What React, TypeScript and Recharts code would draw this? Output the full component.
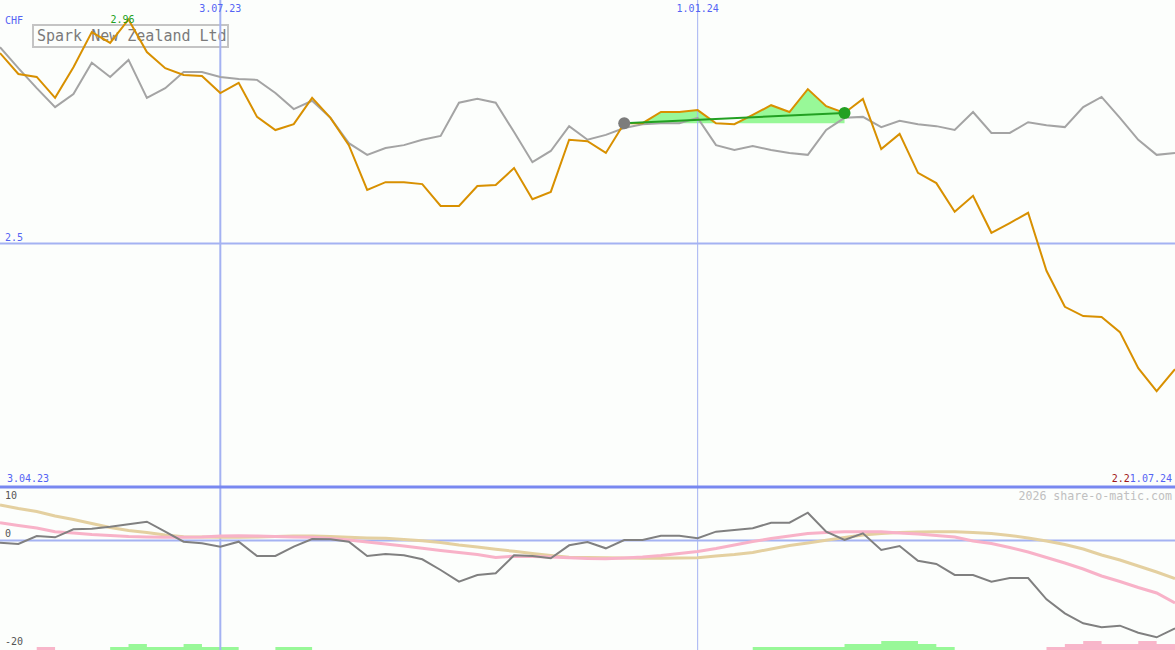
import React from "react";
import { ComposedChart, Line, Area, XAxis, YAxis, ReferenceLine, ReferenceDot } from "recharts";

// weekly points, 10.04.23 .. 1.07.24
const weekIdx = Array.from({ length: 65 }, (_, i) => i);

const sparkPrice = [
  2.891, 2.848, 2.842, 2.799, 2.862, 2.934, 2.912, 2.96, 2.893, 2.86,
  2.846, 2.844, 2.809, 2.83, 2.76, 2.733, 2.745, 2.799, 2.758, 2.702,
  2.61, 2.626, 2.626, 2.622, 2.577, 2.577, 2.618, 2.62, 2.655, 2.591,
  2.606, 2.713, 2.71, 2.686, 2.747, 2.747, 2.77, 2.77, 2.774, 2.747,
  2.745, 2.764, 2.784, 2.77, 2.817, 2.782, 2.768, 2.797, 2.694, 2.725,
  2.645, 2.624, 2.565, 2.598, 2.522, 2.542, 2.563, 2.444, 2.37, 2.351,
  2.349, 2.318, 2.244, 2.197, 2.242,
];

const peerPrice = [
  2.903, 2.86, 2.819, 2.78, 2.807, 2.871, 2.842, 2.877, 2.799, 2.819,
  2.852, 2.852, 2.842, 2.838, 2.836, 2.809, 2.776, 2.793, 2.758, 2.706,
  2.682, 2.696, 2.702, 2.713, 2.721, 2.789, 2.797, 2.789, 2.729, 2.667,
  2.69, 2.741, 2.713, 2.723, 2.737, 2.745, 2.747, 2.747, 2.758, 2.702,
  2.692, 2.7, 2.692, 2.686, 2.682, 2.733, 2.758, 2.76, 2.739, 2.752,
  2.745, 2.741, 2.733, 2.77, 2.727, 2.727, 2.749, 2.743, 2.739, 2.78,
  2.801, 2.758, 2.713, 2.682, 2.686,
];

const momentum = [
  -0.43, -0.67, 0.82, 0.58, 2.08, 2.19, 2.56, 3.01, 3.5, 1.63,
  -0.24, -0.54, -1.18, -0.24, -2.92, -2.92, -1.18, 0.26, 0.21, -0.24,
  -2.92, -2.54, -2.79, -3.54, -5.54, -7.73, -6.47, -6.16, -2.79, -2.92,
  -3.35, -0.92, -0.3, -1.48, 0.07, 0.07, 0.88, 0.88, 0.39, 1.63,
  1.95, 2.26, 3.31, 3.31, 5.18, 1.63, 0.07, 1.33, -1.8, -1.05,
  -3.8, -4.42, -6.47, -6.47, -7.73, -7.04, -7.04, -11.02, -13.64, -15.51,
  -16.26, -15.96, -17.27, -18.13, -16.45,
];

const signalFast = [
  3.31, 2.79, 2.32, 1.63, 1.38, 1.1, 0.92, 0.73, 0.64, 0.58,
  0.58, 0.64, 0.82, 0.88, 0.82, 0.73, 0.64, 0.58, 0.36, 0.07,
  -0.3, -0.67, -1.05, -1.48, -1.89, -2.26, -2.64, -3.2, -2.95, -3.0,
  -3.1, -3.25, -3.39, -3.42, -3.29, -3.11, -2.83, -2.45, -2.08, -1.52,
  -0.86, -0.21, 0.36, 0.82, 1.29, 1.48, 1.63, 1.63, 1.63, 1.38,
  1.2, 0.92, 0.64, -0.11, -0.58, -1.33, -2.17, -3.2, -4.23, -5.35,
  -6.66, -7.69, -8.81, -9.84, -11.71,
];

const signalSlow = [
  6.62, 5.97, 5.41, 4.57, 3.91, 3.16, 2.41, 1.85, 1.48, 1.01,
  0.69, 0.64, 0.58, 0.58, 0.64, 0.73, 0.82, 0.82, 0.73, 0.58,
  0.45, 0.39, 0.17, -0.06, -0.39, -0.86, -1.24, -1.67, -2.04, -2.45,
  -2.83, -3.16, -3.2, -3.24, -3.29, -3.35, -3.35, -3.29, -3.24, -2.92,
  -2.64, -2.26, -1.61, -0.95, -0.49, 0.02, 0.54, 1.01, 1.29, 1.48,
  1.57, 1.63, 1.63, 1.48, 1.29, 0.92, 0.45, -0.11, -0.77, -1.61,
  -2.73, -3.67, -4.79, -5.91, -7.13,
];

// strength blocks under the oscillator (levels 0..3)
const volUp = [
  0, 0, 0, 0, 0, 0, 1, 2, 1, 1,
  2, 1, 1, 0, 0, 1, 1, 0, 0, 0,
  0, 0, 0, 0, 0, 0, 0, 0, 0, 0,
  0, 0, 0, 0, 0, 0, 0, 0, 0, 0,
  0, 1, 1, 1, 1, 1, 2, 2, 3, 3,
  2, 1, 0, 0, 0, 0, 0, 0, 0, 0,
  0, 0, 0, 0, 0,
];
const volDown = [
  0, 0, 1, 0, 0, 0, 0, 0, 0, 0,
  0, 0, 0, 0, 0, 0, 0, 0, 0, 0,
  0, 0, 0, 0, 0, 0, 0, 0, 0, 0,
  0, 0, 0, 0, 0, 0, 0, 0, 0, 0,
  0, 0, 0, 0, 0, 0, 0, 0, 0, 0,
  0, 0, 0, 0, 0, 0, 0, 1, 2, 3,
  2, 2, 3, 2, 0,
];

const gridWeeks = [12, 38];
const gridLabels = ["3.07.23", "1.01.24"];
const trendFrom = 34;
const trendTo = 46;

const MONO = "'DejaVu Sans Mono', monospace";
const BLUE_TXT = "#5464f4";
const GRID = "#a4b2f2";

const base = sparkPrice[trendFrom];
const rows = weekIdx.map((i) => ({
  i,
  spark: sparkPrice[i],
  peer: peerPrice[i],
  mom: momentum[i],
  fast: signalFast[i],
  slow: signalSlow[i],
  up: volUp[i],
  down: volDown[i],
  gain: i >= trendFrom && i <= trendTo ? [base, Math.max(base, sparkPrice[i])] : null,
  trend: i === trendFrom || i === trendTo ? sparkPrice[i] : null,
}));

const peak = Math.max(...sparkPrice);
const peakIdx = sparkPrice.indexOf(peak);

const DateLabel = (props: any) => (
  <text x={props.viewBox.x} y={12} textAnchor="middle" fontFamily={MONO} fontSize={10} fill={BLUE_TXT}>
    {props.text}
  </text>
);

const LevelLabel = (props: any) => (
  <text x={5} y={props.viewBox.y - 3} fontFamily={MONO} fontSize={10} fill={props.color}>
    {props.text}
  </text>
);

const PeakLabel = (props: any) => (
  <text x={props.viewBox.x - 5} y={props.viewBox.y + 5} textAnchor="middle" fontFamily={MONO} fontSize={10} fill="#22a022">
    {props.text}
  </text>
);

export default function App() {
  return (
    <div style={{ position: "absolute", left: 0, top: 0, width: 1175, height: 650, background: "#fcfefc", overflow: "hidden" }}>
      <svg width={1175} height={650} style={{ position: "absolute", left: 0, top: 0 }}>
        <text x={5} y={24} fontFamily={MONO} fontSize={10} fill={BLUE_TXT}>CHF</text>
        <rect x={33} y={25} width={195} height={22} fill="none" stroke="#c4c4c4" strokeWidth={2} />
        <text x={37} y={41} fontFamily={MONO} fontSize={15} fill="#7a7a7a">Spark New Zealand Ltd</text>
        <text x={7} y={482} fontFamily={MONO} fontSize={10} fill={BLUE_TXT}>3.04.23</text>
        <text x={1172} y={482} textAnchor="end" fontFamily={MONO} fontSize={10}>
          <tspan fill="#a01818">2.2</tspan>
          <tspan fill={BLUE_TXT}>1.07.24</tspan>
        </text>
        <text x={1172} y={500} textAnchor="end" fontFamily={MONO} fontSize={11.6} fill="#c0c0c0">2026 share-o-matic.com</text>
        <text x={5} y={499} fontFamily={MONO} fontSize={10} fill="#555555">10</text>
        <text x={5} y={645} fontFamily={MONO} fontSize={10} fill="#555555">-20</text>
      </svg>
      <div style={{ position: "absolute", left: 0, top: 0 }}>
        <ComposedChart width={1175} height={650} data={rows} margin={{ top: 0, right: 0, bottom: 0, left: 0 }}>
          <XAxis type="number" dataKey="i" domain={[0, 64]} hide />
          <YAxis yAxisId="price" domain={[1.6653, 3]} hide allowDataOverflow />
          <YAxis yAxisId="osc" domain={[-20.51, 101.12]} hide allowDataOverflow />
          <YAxis yAxisId="vol" domain={[0, 216.67]} hide allowDataOverflow />

          <ReferenceLine yAxisId="price" y={2.5} stroke={GRID} strokeWidth={2} label={<LevelLabel text="2.5" color={BLUE_TXT} />} />
          <ReferenceLine yAxisId="osc" y={0} stroke={GRID} strokeWidth={2} label={<LevelLabel text="0" color="#555555" />} />
          {gridWeeks.map((w, k) => (
            <ReferenceLine
              key={w}
              yAxisId="price"
              x={w}
              stroke={GRID}
              strokeWidth={k === 0 ? 2 : 1}
              label={<DateLabel text={gridLabels[k]} />}
            />
          ))}

          <Area yAxisId="vol" dataKey="up" type="stepAfter" stroke="none" fill="#98f898" fillOpacity={1} dot={false} activeDot={false} isAnimationActive={false} />
          <Area yAxisId="vol" dataKey="down" type="stepAfter" stroke="none" fill="#f8b6ca" fillOpacity={1} dot={false} activeDot={false} isAnimationActive={false} />
          <Area yAxisId="price" dataKey="gain" type="linear" stroke="none" fill="#98f898" fillOpacity={1} dot={false} activeDot={false} isAnimationActive={false} />

          <Line yAxisId="osc" dataKey="slow" type="linear" stroke="#e4d0a0" strokeWidth={3} dot={false} activeDot={false} isAnimationActive={false} />
          <Line yAxisId="osc" dataKey="fast" type="linear" stroke="#f8b2c8" strokeWidth={3} dot={false} activeDot={false} isAnimationActive={false} />
          <Line yAxisId="osc" dataKey="mom" type="linear" stroke="#808080" strokeWidth={2} dot={false} activeDot={false} isAnimationActive={false} />

          <Line yAxisId="price" dataKey="peer" type="linear" stroke="#a4a4a4" strokeWidth={2} dot={false} activeDot={false} isAnimationActive={false} />
          <Line yAxisId="price" dataKey="spark" type="linear" stroke="#d89000" strokeWidth={2} dot={false} activeDot={false} isAnimationActive={false} />
          <Line yAxisId="price" dataKey="trend" type="linear" stroke="#22a022" strokeWidth={2} dot={false} activeDot={false} connectNulls isAnimationActive={false} />

          <ReferenceDot yAxisId="price" x={trendFrom} y={sparkPrice[trendFrom]} r={6} fill="#7c7c7c" stroke="none" />
          <ReferenceDot yAxisId="price" x={trendTo} y={sparkPrice[trendTo]} r={6} fill="#22a022" stroke="none" />
          <ReferenceDot yAxisId="price" x={peakIdx} y={peak} r={1} fill="none" stroke="none" label={<PeakLabel text={String(peak)} />} />

          <ReferenceLine yAxisId="price" y={2.0} stroke="#7888f0" strokeWidth={3} />
        </ComposedChart>
      </div>
    </div>
  );
}
